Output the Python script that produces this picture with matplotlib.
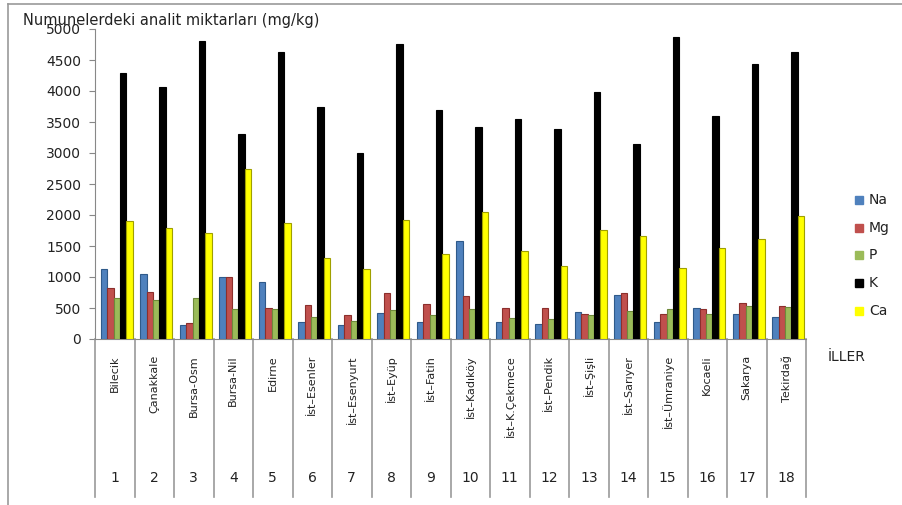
import matplotlib
matplotlib.use("Agg")
import matplotlib.pyplot as plt
from matplotlib.lines import Line2D
import numpy as np

plt.rcParams['font.family'] = ['DejaVu Sans']

categories = ["Bilecik", "Çanakkale", "Bursa-Osm", "Bursa-Nil", "Edirne", "İst–Esenler",
              "İst–Esenyurt", "İst–Eyüp", "İst–Fatih", "İst–Kadıköy", "İst–K.Çekmece",
              "İst–Pendik", "İst–Şişli", "İst–Sarıyer", "İst–Ümraniye", "Kocaeli",
              "Sakarya", "Tekirdağ"]
numbers = [str(i) for i in range(1, 19)]

na = [1124, 1043, 226, 1005, 925, 274, 231, 414, 269, 1586, 269, 242, 435, 704, 269, 500, 409, 355]
mg = [817, 763, 258, 1005, 505, 554, 392, 737, 559, 688, 495, 505, 403, 737, 403, 489, 586, 527]
p = [656, 629, 667, 489, 489, 360, 285, 462, 382, 478, 344, 317, 387, 452, 478, 398, 538, 511]
k = [4290, 4060, 4811, 3302, 4629, 3737, 3005, 4753, 3694, 3414, 3548, 3382, 3984, 3145, 4871, 3592, 4430, 4624]
ca = [1908, 1785, 1704, 2742, 1866, 1301, 1124, 1925, 1366, 2043, 1414, 1183, 1758, 1656, 1151, 1462, 1608, 1989]

series_names = ["Na", "Mg", "P", "K", "Ca"]
series = [na, mg, p, k, ca]
colors = ["#4F81BD", "#C0504D", "#9BBB59", "#000000", "#FFFF00"]
edges = ["#2F5A8A", "#8C2F2C", "#6E8A3A", "#000000", "#A0A000"]
yticks = [0, 500, 1000, 1500, 2000, 2500, 3000, 3500, 4000, 4500, 5000]

W, H = 902, 505
fig = plt.figure(figsize=(W / 100, H / 100), dpi=100)
ax = fig.add_axes([95 / W, (H - 339) / H, (806 - 95) / W, (339 - 29) / H])

x = np.arange(len(categories))
bw = 0.16
offsets = [0.23, 0.39, 0.55, 0.71, 0.87]
for vals, c, e, off, name in zip(series, colors, edges, offsets, series_names):
    ax.bar(x + off, vals, width=bw, color=c, edgecolor=e, linewidth=0.8, label=name, zorder=3)

ax.set_xlim(0, len(categories))
ax.set_ylim(0, 5000)
ax.set_yticks(yticks)
ax.set_yticklabels([str(v) for v in yticks], fontsize=10, color="#222222")
ax.set_xticks([])
for s in ["top", "right"]:
    ax.spines[s].set_visible(False)
ax.spines["left"].set_color("#888888")
ax.spines["bottom"].set_color("#888888")
ax.tick_params(axis="y", length=4, color="#888888", pad=6)

# category table
tr = ax.get_xaxis_transform()
table_bottom = -(497 - 339) / (339 - 29)
for b in range(len(categories) + 1):
    ax.plot([b, b], [0, table_bottom], transform=tr, color="#999999", lw=1.2, clip_on=False)
lab_y = -(355 - 339) / (339 - 29)
num_y = -(478 - 339) / (339 - 29)
for i, (cat, n) in enumerate(zip(categories, numbers)):
    ax.text(i + 0.5, lab_y, cat, transform=tr, rotation=90, ha="center", va="top",
            fontsize=8, color="#222222", clip_on=False)
    ax.text(i + 0.5, num_y, n, transform=tr, ha="center", va="center",
            fontsize=10, color="#222222", clip_on=False)

fig.text(23 / W, 1 - 20 / H, "Numunelerdeki analit miktarları (mg/kg)", fontsize=10.5,
         ha="left", va="center", color="#222222")
fig.text(828 / W, 1 - 357 / H, "İLLER", fontsize=10, ha="left", va="center", color="#222222")

# legend
leg_y = [200, 228, 255, 283, 311]
for name, c, yy in zip(series_names, colors, leg_y):
    fig.patches.append(plt.Rectangle((855 / W, 1 - (yy + 4) / H), 8 / W, 8 / H,
                                     transform=fig.transFigure, color=c))
    fig.text(869 / W, 1 - yy / H, name, fontsize=10, ha="left", va="center", color="#222222")

# outer border
fig.add_artist(Line2D([8 / W, 8 / W], [0, 1 - 4 / H], transform=fig.transFigure, color="#999999", lw=1.2))
fig.add_artist(Line2D([8 / W, 1], [1 - 4 / H, 1 - 4 / H], transform=fig.transFigure, color="#999999", lw=1.2))

fig.savefig("out.png", dpi=100)
